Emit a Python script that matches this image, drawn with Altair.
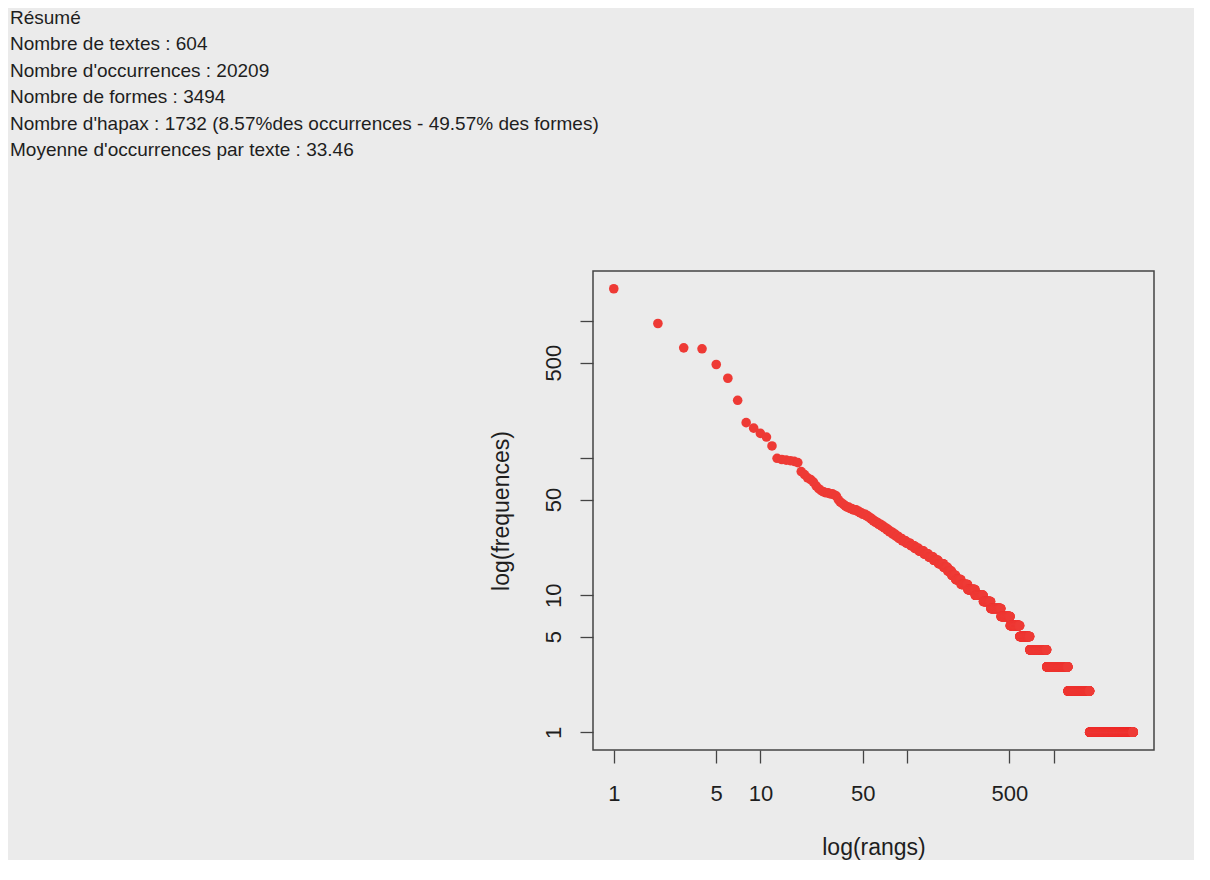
import altair as alt
import numpy as np
import pandas as pd

# ---- summary text (top-left) ----
summary_lines = [
    "Résumé",
    "Nombre de textes : 604",
    "Nombre d'occurrences : 20209",
    "Nombre de formes : 3494",
    "Nombre d'hapax : 1732 (8.57%des occurrences - 49.57% des formes)",
    "Moyenne d'occurrences par texte : 33.46",
]

# ---- frequencies of the most frequent forms (ranks 1..37) ----
top_freqs = [1729, 964, 640, 630, 484, 384, 265, 182, 166, 152, 143, 123,
             100, 98, 97, 96, 95, 93, 80, 76, 72, 70, 67, 63, 60, 58, 57,
             56, 56, 55, 55, 54, 53, 50, 48, 47, 46]

# ---- frequency spectrum for the remaining forms: frequency -> number of forms ----
spectrum_freqs = [45, 44, 43, 42, 41, 40, 39, 38, 37, 36, 35, 34, 33, 32, 31, 30,
                  29, 28, 27, 26, 25, 24, 23, 22, 21, 20, 19, 18, 17, 16, 15, 14,
                  13, 12, 11, 10, 9, 8, 7, 6, 5, 4, 3, 2, 1]
spectrum_counts = [1, 2, 2, 3, 2, 2, 3, 2, 2, 2, 2, 3, 3, 3, 3, 3,
                   4, 4, 4, 5, 6, 7, 7, 8, 10, 10, 11, 12, 14, 12, 12, 13,
                   19, 26, 32, 40, 41, 65, 68, 82, 100, 210, 355, 510, 1732]

x_ticks = [1, 5, 10, 50, 100, 500, 1000]
y_ticks = [1, 5, 10, 50, 100, 500, 1000]

# ---- build the rank / frequency table (rank = position in the sorted list) ----
freqs = list(top_freqs)
for f, c in zip(spectrum_freqs, spectrum_counts):
    freqs.extend([f] * c)
df = pd.DataFrame({"rang": np.arange(1, len(freqs) + 1), "frequence": freqs})

# R-style axis ranges: data range in log space extended by 4% on each side
lx = np.log10(df["rang"].max())
ly = np.log10(df["frequence"].max())
x_domain = [10 ** (-0.04 * lx), 10 ** (1.04 * lx)]
y_domain = [10 ** (-0.04 * ly), 10 ** (1.04 * ly)]

FONT = "Liberation Sans"
AX = "#444444"
TXT = "#1e1e1e"
hide_expr = "datum.value == 100 || datum.value == 1000 ? '' : datum.label"

chart = alt.Chart(df).mark_circle(size=92, color="#ee3a35", opacity=1).encode(
    x=alt.X(
        "rang:Q",
        scale=alt.Scale(type="log", domain=x_domain, nice=False),
        axis=alt.Axis(
            values=x_ticks, labelExpr=hide_expr, title="log(rangs)",
            domain=False, grid=False, tickSize=13, tickColor=AX, tickWidth=1.3,
            labelFont=FONT, labelFontSize=22, labelColor=TXT,
            labelBaseline="alphabetic", labelPadding=37,
            labelOverlap=False, labelFlush=False,
            titleFont=FONT, titleFontSize=23, titleColor=TXT,
            titleFontWeight="normal", titleBaseline="alphabetic", titleY=104,
        ),
    ),
    y=alt.Y(
        "frequence:Q",
        scale=alt.Scale(type="log", domain=y_domain, nice=False),
        axis=alt.Axis(
            values=y_ticks, labelExpr=hide_expr, title="log(frequences)",
            domain=False, grid=False, tickSize=13, tickColor=AX, tickWidth=1.3,
            labelFont=FONT, labelFontSize=22, labelColor=TXT,
            labelAngle=270, labelAlign="center", labelBaseline="alphabetic",
            labelPadding=20, labelOverlap=False, labelFlush=False,
            titleFont=FONT, titleFontSize=23, titleColor=TXT,
            titleFontWeight="normal", titleAngle=270, titleBaseline="alphabetic",
            titleAlign="center", titleX=-85, titleY=239.5,
        ),
    ),
).properties(
    width=561,
    height=479,
    title=alt.TitleParams(
        text=summary_lines, anchor="start", frame="group", orient="top",
        offset=0, dx=-583, dy=-111, baseline="top", fontSize=19,
        lineHeight=26.5, font=FONT, fontWeight="normal", color=TXT,
    ),
    background="#ebebeb",
    padding={"left": 585, "top": 263, "right": 40, "bottom": 110},
    autosize=alt.AutoSizeParams(type="none"),
).configure_view(stroke=AX, strokeWidth=1.5, fill="#ebebeb")

chart.save("out.html", embed_options={"renderer": "svg", "actions": False})
